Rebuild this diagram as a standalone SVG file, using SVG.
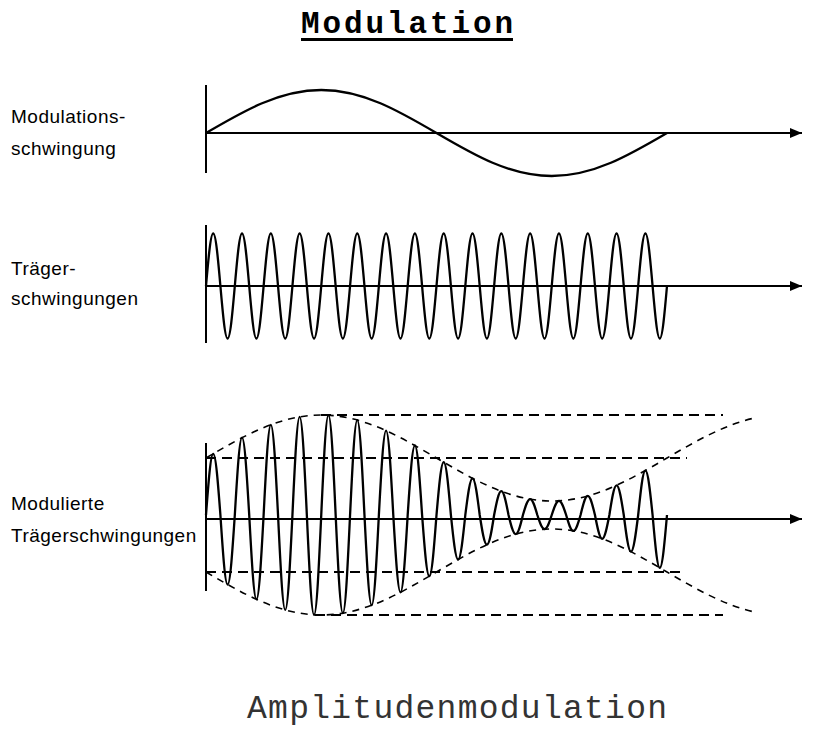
<svg xmlns="http://www.w3.org/2000/svg" width="826" height="739" viewBox="0 0 826 739">
  <defs>
    <marker id="arrow" markerUnits="userSpaceOnUse" markerWidth="13" markerHeight="11" refX="12" refY="5" orient="auto">
      <path d="M0,0 L12,5 L0,10 Z" fill="#000"/>
    </marker>
  </defs>
  <style>
    .label { font-family: "Liberation Sans", Arial, sans-serif; font-size: 19px; letter-spacing: 0.5px; fill: #000; }
    .axis { stroke: #000; stroke-width: 2; fill: none; }
    .wave { stroke: #000; stroke-width: 2.3; fill: none; stroke-linejoin: round; }
    .dash { stroke: #000; stroke-width: 2; fill: none; stroke-dasharray: 10 6; }
    .env { stroke: #000; stroke-width: 1.6; fill: none; stroke-dasharray: 7 6; }
  </style>
  <rect width="826" height="739" fill="#fff"/>

  <g id="title">
    <text x="301" y="33" font-family="'Liberation Mono', 'Courier New', monospace" font-weight="bold" font-size="31" textLength="212" lengthAdjust="spacing" fill="#000">Modulation</text>
    <rect x="301" y="38" width="212" height="3" fill="#000"/>
  </g>

  <g id="panel-modulation">
    <text class="label" x="11" y="123">Modulations-</text>
    <text class="label" x="11" y="155">schwingung</text>
    <line class="axis" x1="206" y1="85" x2="206" y2="173"/>
    <line class="axis" x1="206" y1="133" x2="802" y2="133" marker-end="url(#arrow)"/>
    <path class="wave" d="M206,133 c37.59,-22.03 73.54,-43 115.25,-43 c41.71,0 77.66,20.97 115.25,43 c37.59,22.03 73.54,43 115.25,43 c41.71,0 77.66,-20.97 115.25,-43"/>
  </g>

  <g id="panel-carrier">
    <text class="label" x="11" y="275">Träger-</text>
    <text class="label" x="11" y="305">schwingungen</text>
    <line class="axis" x1="206" y1="225" x2="206" y2="343"/>
    <line class="axis" x1="206" y1="286" x2="802" y2="286" marker-end="url(#arrow)"/>
    <path class="wave" d="M206,286
      c2.349,-26.9 4.596,-52.5 7.203,-52.5 c2.607,0 4.854,25.6 7.203,52.5 c2.349,26.9 4.596,52.5 7.203,52.5 c2.607,0 4.854,-25.6 7.203,-52.5
      c2.349,-26.9 4.596,-52.5 7.203,-52.5 c2.607,0 4.854,25.6 7.203,52.5 c2.349,26.9 4.596,52.5 7.203,52.5 c2.607,0 4.854,-25.6 7.203,-52.5
      c2.349,-26.9 4.596,-52.5 7.203,-52.5 c2.607,0 4.854,25.6 7.203,52.5 c2.349,26.9 4.596,52.5 7.203,52.5 c2.607,0 4.854,-25.6 7.203,-52.5
      c2.349,-26.9 4.596,-52.5 7.203,-52.5 c2.607,0 4.854,25.6 7.203,52.5 c2.349,26.9 4.596,52.5 7.203,52.5 c2.607,0 4.854,-25.6 7.203,-52.5
      c2.349,-26.9 4.596,-52.5 7.203,-52.5 c2.607,0 4.854,25.6 7.203,52.5 c2.349,26.9 4.596,52.5 7.203,52.5 c2.607,0 4.854,-25.6 7.203,-52.5
      c2.349,-26.9 4.596,-52.5 7.203,-52.5 c2.607,0 4.854,25.6 7.203,52.5 c2.349,26.9 4.596,52.5 7.203,52.5 c2.607,0 4.854,-25.6 7.203,-52.5
      c2.349,-26.9 4.596,-52.5 7.203,-52.5 c2.607,0 4.854,25.6 7.203,52.5 c2.349,26.9 4.596,52.5 7.203,52.5 c2.607,0 4.854,-25.6 7.203,-52.5
      c2.349,-26.9 4.596,-52.5 7.203,-52.5 c2.607,0 4.854,25.6 7.203,52.5 c2.349,26.9 4.596,52.5 7.203,52.5 c2.607,0 4.854,-25.6 7.203,-52.5
      c2.349,-26.9 4.596,-52.5 7.203,-52.5 c2.607,0 4.854,25.6 7.203,52.5 c2.349,26.9 4.596,52.5 7.203,52.5 c2.607,0 4.854,-25.6 7.203,-52.5
      c2.349,-26.9 4.596,-52.5 7.203,-52.5 c2.607,0 4.854,25.6 7.203,52.5 c2.349,26.9 4.596,52.5 7.203,52.5 c2.607,0 4.854,-25.6 7.203,-52.5
      c2.349,-26.9 4.596,-52.5 7.203,-52.5 c2.607,0 4.854,25.6 7.203,52.5 c2.349,26.9 4.596,52.5 7.203,52.5 c2.607,0 4.854,-25.6 7.203,-52.5
      c2.349,-26.9 4.596,-52.5 7.203,-52.5 c2.607,0 4.854,25.6 7.203,52.5 c2.349,26.9 4.596,52.5 7.203,52.5 c2.607,0 4.854,-25.6 7.203,-52.5
      c2.349,-26.9 4.596,-52.5 7.203,-52.5 c2.607,0 4.854,25.6 7.203,52.5 c2.349,26.9 4.596,52.5 7.203,52.5 c2.607,0 4.854,-25.6 7.203,-52.5
      c2.349,-26.9 4.596,-52.5 7.203,-52.5 c2.607,0 4.854,25.6 7.203,52.5 c2.349,26.9 4.596,52.5 7.203,52.5 c2.607,0 4.854,-25.6 7.203,-52.5
      c2.349,-26.9 4.596,-52.5 7.203,-52.5 c2.607,0 4.854,25.6 7.203,52.5 c2.349,26.9 4.596,52.5 7.203,52.5 c2.607,0 4.854,-25.6 7.203,-52.5
      c2.349,-26.9 4.596,-52.5 7.203,-52.5 c2.607,0 4.854,25.6 7.203,52.5 c2.349,26.9 4.596,52.5 7.203,52.5 c2.607,0 4.854,-25.6 7.203,-52.5"/>
  </g>

  <g id="panel-am">
    <text class="label" x="11" y="510">Modulierte</text>
    <text class="label" x="11" y="542">Trägerschwingungen</text>
    <line class="axis" x1="206" y1="443" x2="206" y2="591"/>
    <line class="axis" x1="206" y1="519" x2="802" y2="519" marker-end="url(#arrow)"/>
    <line class="dash" x1="321" y1="415" x2="723" y2="415"/>
    <line class="dash" x1="206" y1="458" x2="687" y2="458"/>
    <line class="dash" x1="206" y1="572" x2="682" y2="572"/>
    <line class="dash" x1="315" y1="615" x2="723" y2="615"/>
    <path class="env" d="M206,458 c37.59,-22.03 73.54,-43 115.25,-43 c41.71,0 77.66,20.97 115.25,43 c37.59,22.03 73.54,43 115.25,43 c41.71,0 77.66,-20.97 115.25,-43 c29.35,-17.2 58.7,-33.84 88.04,-40.08"/>
    <path class="env" d="M206,572 c37.59,22.03 73.54,43 115.25,43 c41.71,0 77.66,-20.97 115.25,-43 c37.59,-22.03 73.54,-43 115.25,-43 c41.71,0 77.66,20.97 115.25,43 c29.35,17.2 58.7,33.84 88.04,40.08"/>
    <path class="wave" d="M206,515
      c2.349,-31.35 4.596,-61.2 7.203,-61.2 c2.607,0 4.854,29.85 7.203,61.2
      c2.349,35.6 4.596,69.5 7.203,69.5 c2.607,0 4.854,-33.9 7.203,-69.5
      c2.349,-39.6 4.596,-77.3 7.203,-77.3 c2.607,0 4.854,37.7 7.203,77.3
      c2.349,43.19 4.596,84.3 7.203,84.3 c2.607,0 4.854,-41.11 7.203,-84.3
      c2.349,-46.21 4.596,-90.2 7.203,-90.2 c2.607,0 4.854,43.99 7.203,90.2
      c2.349,48.62 4.596,94.9 7.203,94.9 c2.607,0 4.854,-46.28 7.203,-94.9
      c2.349,-50.26 4.596,-98.1 7.203,-98.1 c2.607,0 4.854,47.84 7.203,98.1
      c2.349,51.13 4.596,99.8 7.203,99.8 c2.607,0 4.854,-48.67 7.203,-99.8
      c2.349,-51.13 4.596,-99.8 7.203,-99.8 c2.607,0 4.854,48.67 7.203,99.8
      c2.349,50.26 4.596,98.1 7.203,98.1 c2.607,0 4.854,-47.84 7.203,-98.1
      c2.349,-48.62 4.596,-94.9 7.203,-94.9 c2.607,0 4.854,46.28 7.203,94.9
      c2.349,46.21 4.596,90.2 7.203,90.2 c2.607,0 4.854,-43.99 7.203,-90.2
      c2.349,-43.19 4.596,-84.3 7.203,-84.3 c2.607,0 4.854,41.11 7.203,84.3
      c2.349,39.6 4.596,77.3 7.203,77.3 c2.607,0 4.854,-37.7 7.203,-77.3
      c2.349,-35.6 4.596,-69.5 7.203,-69.5 c2.607,0 4.854,33.9 7.203,69.5
      c2.349,31.35 4.596,61.2 7.203,61.2 c2.607,0 4.854,-29.85 7.203,-61.2
      c2.349,-27.05 4.596,-52.8 7.203,-52.8 c2.607,0 4.854,25.75 7.203,52.8
      c2.349,22.8 4.596,44.5 7.203,44.5 c2.607,0 4.854,-21.7 7.203,-44.5
      c2.349,-18.8 4.596,-36.7 7.203,-36.7 c2.607,0 4.854,17.9 7.203,36.7
      c2.349,15.22 4.596,29.7 7.203,29.7 c2.607,0 4.854,-14.48 7.203,-29.7
      c2.349,-12.19 4.596,-23.8 7.203,-23.8 c2.607,0 4.854,11.61 7.203,23.8
      c2.349,9.78 4.596,19.1 7.203,19.1 c2.607,0 4.854,-9.32 7.203,-19.1
      c2.349,-8.15 4.596,-15.9 7.203,-15.9 c2.607,0 4.854,7.75 7.203,15.9
      c2.349,7.27 4.596,14.2 7.203,14.2 c2.607,0 4.854,-6.93 7.203,-14.2
      c2.349,-7.27 4.596,-14.2 7.203,-14.2 c2.607,0 4.854,6.93 7.203,14.2
      c2.349,8.15 4.596,15.9 7.203,15.9 c2.607,0 4.854,-7.75 7.203,-15.9
      c2.349,-9.78 4.596,-19.1 7.203,-19.1 c2.607,0 4.854,9.32 7.203,19.1
      c2.349,12.19 4.596,23.8 7.203,23.8 c2.607,0 4.854,-11.61 7.203,-23.8
      c2.349,-15.22 4.596,-29.7 7.203,-29.7 c2.607,0 4.854,14.48 7.203,29.7
      c2.349,18.8 4.596,36.7 7.203,36.7 c2.607,0 4.854,-17.9 7.203,-36.7
      c2.349,-22.8 4.596,-44.5 7.203,-44.5 c2.607,0 4.854,21.7 7.203,44.5
      c2.349,27.05 4.596,52.8 7.203,52.8 c2.607,0 4.854,-25.75 7.203,-52.8"/>
  </g>

  <g id="caption">
    <text x="247" y="718" font-family="'Liberation Mono', 'Courier New', monospace" font-size="33" textLength="420" lengthAdjust="spacing" fill="#333">Amplitudenmodulation</text>
  </g>
</svg>
